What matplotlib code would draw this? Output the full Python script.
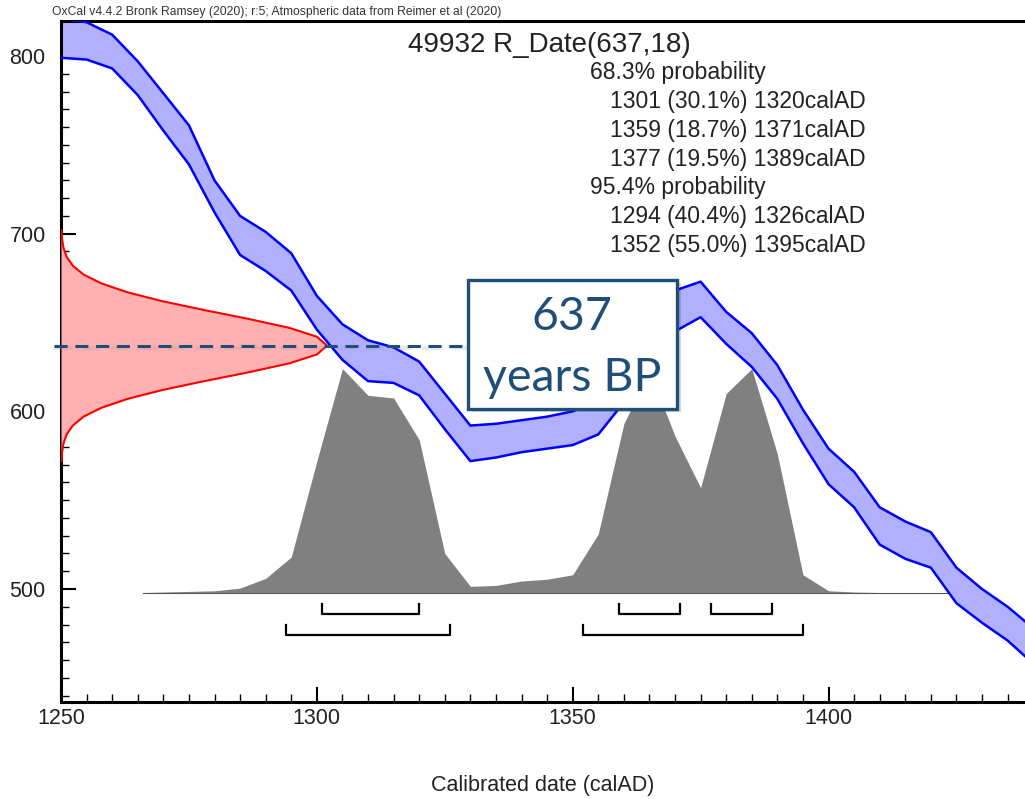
import matplotlib.pyplot as plt
from matplotlib.patches import Rectangle

plt.rcParams['font.family'] = ['Liberation Sans', 'DejaVu Sans']

# calibration curve band (radiocarbon age BP)
cal_years = [1250, 1255, 1260, 1265, 1270, 1275, 1280, 1285, 1290, 1295,
             1300, 1305, 1310, 1315, 1320, 1325, 1330, 1335, 1340, 1345,
             1350, 1355, 1360, 1365, 1370, 1375, 1380, 1385, 1390, 1395,
             1400, 1405, 1410, 1415, 1420, 1425, 1430, 1435, 1440]
cal_upper = [821, 819, 812, 797, 779, 761, 730, 710, 701, 689,
             665, 649, 640, 636, 628, 610, 592, 593, 595, 597,
             600, 606, 630, 655, 668, 673, 656, 644, 626, 601,
             579, 566, 546, 538, 532, 512, 500, 490, 478]
cal_lower = [799, 798, 793, 778, 758, 739, 712, 688, 679, 668,
             646, 629, 617, 616, 609, 590, 572, 574, 577, 579,
             581, 587, 605, 628, 645, 653, 638, 625, 607, 582,
             559, 546, 525, 517, 512, 492, 481, 471, 458]

# measured date: R_Date(637,18), probability (width in years) vs age BP
rdate_age = [572, 577, 582, 587, 592, 597, 602, 607, 612, 617, 622, 627, 632, 637,
             642, 647, 652, 657, 662, 667, 672, 677, 682, 687, 692, 697, 702]
rdate_prob = [0.08, 0.20, 0.49, 1.1, 2.3, 4.4, 7.9, 13.0, 19.8, 28.0, 36.7, 44.6, 50.0, 52.0,
              50.0, 44.6, 36.7, 28.0, 19.8, 13.0, 7.9, 4.4, 2.3, 1.1, 0.49, 0.20, 0.08]

# calibrated posterior (relative height)
post_years = [1266, 1280, 1285, 1290, 1295, 1300, 1305, 1310, 1315, 1320,
              1325, 1330, 1335, 1340, 1345, 1350, 1355, 1360, 1365, 1370,
              1375, 1380, 1385, 1390, 1395, 1400, 1405, 1410, 1425]
post_prob = [0, 1, 2.5, 8, 20, 74, 126, 111, 109.5, 86,
             22, 3.5, 4, 6.5, 7.5, 10, 33, 95, 125, 88,
             59, 112, 126, 78, 10, 1, 0.3, 0, 0]

# highest probability ranges
ranges_68 = [(1301, 1320), (1359, 1371), (1377, 1389)]
ranges_95 = [(1294, 1326), (1352, 1395)]
range_text = ["68.3% probability",
              "1301 (30.1%) 1320calAD",
              "1359 (18.7%) 1371calAD",
              "1377 (19.5%) 1389calAD",
              "95.4% probability",
              "1294 (40.4%) 1326calAD",
              "1352 (55.0%) 1395calAD"]

measured_age = 637
box_color = '#1f4e79'

fig = plt.figure(figsize=(10.25, 7.99), dpi=100)
ax = fig.add_axes([61/1025, 1 - 702/799, 964/1025, 681/799])

# posterior
base = 498
ax.fill_between(post_years, base, [base + p for p in post_prob], color='#808080', lw=0, zorder=1)
ax.plot([post_years[0], post_years[-1]], [base, base], color='#555555', lw=0.8, zorder=1)

# calibration curve
ax.fill_between(cal_years, cal_lower, cal_upper, color='#b0b0ff', lw=0, zorder=2)
ax.plot(cal_years, cal_upper, color='#0000ff', lw=1.8, zorder=3)
ax.plot(cal_years, cal_lower, color='#0000ff', lw=1.8, zorder=3)

# measured date distribution on the y axis
ax.fill_betweenx(rdate_age, 1250, [1250 + p for p in rdate_prob], color='#ffb0b0', lw=0, zorder=4)
ax.plot([1250 + p for p in rdate_prob], rdate_age, color='#ff0000', lw=1.5, zorder=4)

# range brackets
for a, b in ranges_68:
    ax.plot([a, a, b, b], [491.5, 486, 486, 491.5], color='black', lw=1.6, zorder=3)
for a, b in ranges_95:
    ax.plot([a, a, b, b], [479.5, 474, 474, 479.5], color='black', lw=1.6, zorder=3)

# dashed line and annotation box
ax.plot([1248.6, 1329.5], [measured_age - 1.6, measured_age - 1.6], color='#999999', alpha=0.2,
        lw=3, dashes=(4.3, 2.5), clip_on=False, zorder=5)
ax.plot([1248.6, 1329.5], [measured_age, measured_age], color=box_color, lw=2.2,
        dashes=(4.3, 2.5), clip_on=False, zorder=6)
ax.add_patch(Rectangle((1330.3, 599.5), 40.8, 72.5, facecolor='#000000', alpha=0.15,
                       lw=0, zorder=6))
ax.add_patch(Rectangle((1329.5, 601.5), 40.8, 72.5, facecolor='white', edgecolor=box_color,
                       lw=2.4, zorder=7))
ax.text(1349.9, 653, str(measured_age), ha='center', va='center', fontsize=33.5,
        family='Lato', color=box_color, zorder=8)
ax.text(1349.9, 619, "years BP", ha='center', va='center', fontsize=33.5,
        family='Lato', color=box_color, zorder=8)

ax.set_xlim(1250, 1438.4)
ax.set_ylim(436.4, 819.7)
ax.set_xticks([1250, 1300, 1350, 1400])
ax.set_xticks(range(1250, 1440, 5), minor=True)
ax.set_yticks([500, 600, 700, 800])
ax.set_yticks(range(440, 820, 10), minor=True)
ax.tick_params(which='major', direction='in', length=11, width=1.5, labelsize=15.5,
               labelcolor='#222222')
ax.tick_params(which='minor', direction='in', length=5.5, width=1.0)
ax.tick_params(axis='y', which='major', pad=11)
ax.tick_params(axis='x', which='major', pad=4)
ax.spines['right'].set_visible(False)
for s in ['left', 'bottom', 'top']:
    ax.spines[s].set_linewidth(2.2)

fig.text(52/1025, 1 - 12/799, "OxCal v4.4.2 Bronk Ramsey (2020); r:5; Atmospheric data from Reimer et al (2020)",
         fontsize=8.7, color='#333333', va='center', ha='left')
fig.text(549/1025, 1 - 45/799, "49932 R_Date(637,18)", fontsize=20, color='#222222',
         ha='center', va='center')
for i, line in enumerate(range_text):
    x0 = 590 if 'probability' in line else 610
    fig.text(x0/1025, 1 - (73 + i*28.7)/799, line, fontsize=16.5, color='#222222',
             ha='left', va='center')
fig.text(543/1025, 1 - 785/799, "Calibrated date (calAD)", fontsize=15.5, color='#222222',
         ha='center', va='center')

fig.savefig("out.png", dpi=100)
